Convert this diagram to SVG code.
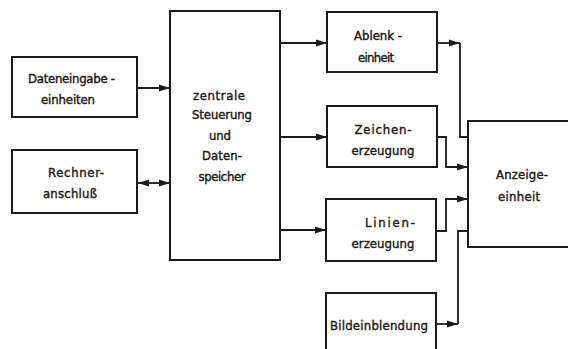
<svg xmlns="http://www.w3.org/2000/svg" width="568" height="349" viewBox="0 0 568 349">
<defs>
<marker id="ah" markerUnits="userSpaceOnUse" markerWidth="12" markerHeight="8" refX="11" refY="4" orient="auto-start-reverse">
<path d="M0,0.5 L11,4 L0,7.5 Z" fill="#1c1a18"/>
</marker>
<style>
.box{fill:none;stroke:#1c1a18;stroke-width:2}
.ln{fill:none;stroke:#1c1a18;stroke-width:1.8}
text{font-family:"DejaVu Sans Condensed","DejaVu Sans",sans-serif;font-size:13px;fill:#1c1a18;stroke:#1c1a18;stroke-width:0.4;text-anchor:middle}
</style>
</defs>
<rect width="568" height="349" fill="#fff"/>
<g id="connectors">
<path class="ln" d="M137,88 H170" marker-end="url(#ah)"/>
<path class="ln" d="M138,183 H170" marker-start="url(#ah)" marker-end="url(#ah)"/>
<path class="ln" d="M280,43 H327" marker-end="url(#ah)"/>
<path class="ln" d="M280,137 H327" marker-end="url(#ah)"/>
<path class="ln" d="M280,230 H326" marker-end="url(#ah)"/>
<path class="ln" d="M437,43 H460" marker-end="url(#ah)"/>
<path class="ln" d="M460,43 V137 H468"/>
<path class="ln" d="M437,137 H446 V167 H468" marker-end="url(#ah)"/>
<path class="ln" d="M436,231 H446 V199 H468" marker-end="url(#ah)"/>
<path class="ln" d="M436,324 H458" marker-end="url(#ah)"/>
<path class="ln" d="M458,324 V231 H468"/>
</g>
<g id="dateneingabe">
<rect class="box" x="12" y="57" width="125" height="60"/>
<text x="71.5" y="83" textLength="87" lengthAdjust="spacing">Dateneingabe -</text>
<text x="68" y="104" textLength="54" lengthAdjust="spacing">einheiten</text>
</g>
<g id="rechner">
<rect class="box" x="12" y="150" width="125" height="63"/>
<text x="76" y="177" textLength="56" lengthAdjust="spacing">Rechner-</text>
<text x="70" y="198" textLength="54" lengthAdjust="spacing">anschluß</text>
</g>
<g id="zentrale">
<rect class="box" x="170" y="11" width="110" height="249"/>
<text x="219" y="100" textLength="52" lengthAdjust="spacing">zentrale</text>
<text x="222" y="119" textLength="60" lengthAdjust="spacing">Steuerung</text>
<text x="220" y="140" textLength="22" lengthAdjust="spacing">und</text>
<text x="222" y="160" textLength="40" lengthAdjust="spacing">Daten-</text>
<text x="222" y="181" textLength="47" lengthAdjust="spacing">speicher</text>
</g>
<g id="ablenk">
<rect class="box" x="327" y="12" width="110" height="60"/>
<text x="378" y="40" textLength="48" lengthAdjust="spacing">Ablenk -</text>
<text x="376" y="62" textLength="36" lengthAdjust="spacing">einheit</text>
</g>
<g id="zeichen">
<rect class="box" x="327" y="106" width="110" height="61"/>
<text x="383" y="134" textLength="57" lengthAdjust="spacing">Zeichen-</text>
<text x="383" y="155" textLength="63" lengthAdjust="spacing">erzeugung</text>
</g>
<g id="linien">
<rect class="box" x="326" y="199" width="110" height="62"/>
<text x="390" y="227" textLength="50" lengthAdjust="spacing">Linien-</text>
<text x="383" y="248" textLength="63" lengthAdjust="spacing">erzeugung</text>
</g>
<g id="bildeinblendung">
<rect class="box" x="326" y="293" width="110" height="62"/>
<text x="379" y="330" textLength="98" lengthAdjust="spacing">Bildeinblendung</text>
</g>
<g id="anzeige">
<rect class="box" x="468" y="121" width="110" height="126"/>
<text x="522" y="179" textLength="52" lengthAdjust="spacing">Anzeige-</text>
<text x="519" y="201" textLength="42" lengthAdjust="spacing">einheit</text>
</g>
</svg>
